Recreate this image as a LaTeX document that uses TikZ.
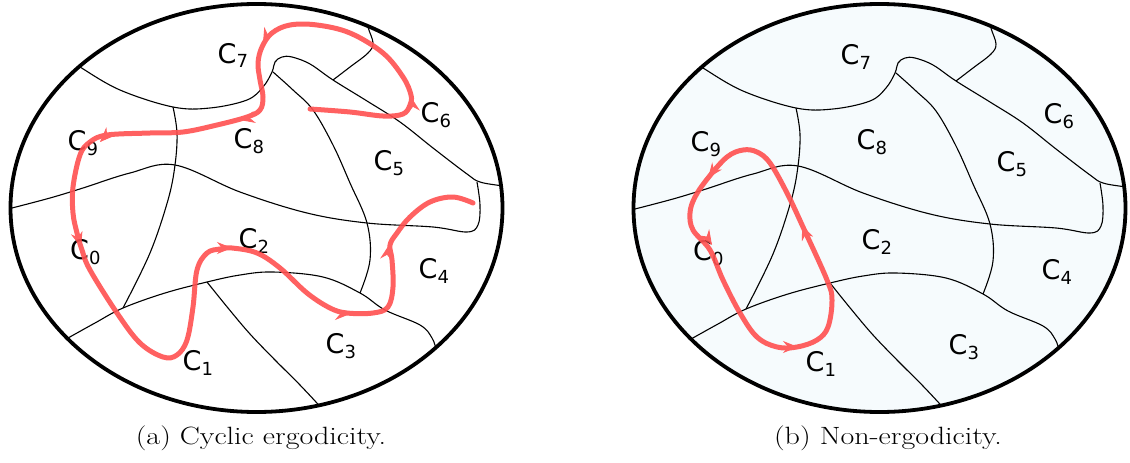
\documentclass[tikz,border=0pt]{standalone}
\usepackage{fontspec}
\newfontfamily\labelfont{DejaVu Sans}
\usetikzlibrary{arrows.meta}
\definecolor{loopred}{RGB}{255,80,80}
\definecolor{panelfill}{RGB}{246,251,253}
\newcommand{\cellname}[1]{C\raisebox{-5pt}{\fontsize{18}{18}\selectfont #1}}
\newcommand{\captext}[1]{\scalebox{1.2}[1]{#1}}
\tikzset{
  region/.style={line width=1.1pt, black, line join=round},
  rim/.style={line width=3.8pt, black},
  redloop/.style={line width=5pt, loopred, line cap=round, line join=round},
  tipmark/.style={loopred, line width=1pt, -{Stealth[length=15pt,width=12pt,inset=5pt]}},
  cell/.style={font=\labelfont\fontsize{27}{27}\selectfont, inner sep=0pt, anchor=base west},
  captiontext/.style={font=\fontsize{25}{29}\selectfont, inner sep=0pt}
}
\newcommand{\regionlines}{%
  \draw[region] plot[smooth, tension=0.6] coordinates {(70,60) (80,67) (120,90) (173,107) (210,108) (247,100) (263,87) (272,72) (275,62) (282,57) (292,57) (310,64) (333,80) (367,101) (400,122) (433,148) (467,174) (480,182) (503,186) (515,188)};
  \draw[region] plot[smooth, tension=0.6] coordinates {(367,15) (368,27) (373,43) (368,53) (350,67) (333,80)};
  \draw[region] plot[smooth, tension=0.6] coordinates {(173,107) (177,133) (175,165) (168,200) (150,253) (123,308)};
  \draw[region] plot[smooth, tension=0.6] coordinates {(0,211) (12,208) (50,198) (83,188) (130,173) (175,165) (240,192) (307,213) (367,223) (433,227) (467,232) (478,225) (480,205) (477,182)};
  \draw[region] plot[smooth, tension=0.6] coordinates {(273,72) (293,90) (313,110) (333,145) (350,183) (367,223) (370,260) (360,293)};
  \draw[region] plot[smooth, tension=0.6] coordinates {(55,345) (68,338) (95,323) (123,308) (165,293) (207,282) (240,275) (273,272) (323,277) (360,293) (385,310) (420,325) (432,338) (437,352) (442,365)};
  \draw[region] plot[smooth, tension=0.6] coordinates {(207,282) (228,308) (250,334) (275,360) (300,385) (325,412) (335,425)};
  \node[cell] (c7) at (217.5,63) {\cellname{7}};
  \node[cell] (c6) at (420.5,122) {\cellname{6}};
  \node[cell] (c8) at (233.5,148) {\cellname{8}};
  \node[cell] (c9) at (67.5,150) {\cellname{9}};
  \node[cell] (c5) at (373.5,170) {\cellname{5}};
  \node[cell] (c0) at (70,259) {\cellname{0}};
  \node[cell] (c2) at (238.5,248) {\cellname{2}};
  \node[cell] (c4) at (418.5,278) {\cellname{4}};
  \node[cell] (c3) at (325.5,353) {\cellname{3}};
  \node[cell] (c1) at (182.5,370) {\cellname{1}};
}
\begin{document}
\begin{tikzpicture}[x=1pt,y=-1pt]
\useasboundingbox (0,0) rectangle (1130,463);
% panel (a)
\begin{scope}
  \clip (256.5,208) ellipse [x radius=246, y radius=204];
  \regionlines
\end{scope}
\begin{scope}[transparency group, opacity=0.9]
  \draw[redloop] plot[smooth, tension=0.6] coordinates {(310,109) (350,112) (383,116) (403,114) (410,105) (411,95) (403,77) (383,53) (350,33) (317,25) (290,25) (272,33) (262,47) (258,63) (260,80) (263,97) (260,110) (247,117) (217,125) (183,132) (150,133) (107,135) (90,142) (80,155) (73,187) (73,213) (77,233) (82,250) (90,270) (117,313) (140,343) (163,357) (177,355) (187,340) (193,307) (197,270) (207,253) (220,249) (232,248) (257,253) (280,268) (307,293) (330,308) (347,313) (373,313) (388,307) (393,287) (392,260) (390,245) (397,233) (410,217) (430,202) (453,197) (473,203)};
  \draw[tipmark] (411.2,98) -- (411,97);
  \draw[tipmark] (263.5,42) -- (263,43);
  \draw[tipmark] (241,119.8) -- (240,120);
  \draw[tipmark] (100.7,141.3) -- (100,142);
  \draw[tipmark] (80.7,246) -- (81,247);
  \draw[tipmark] (231,248) -- (232,248);
  \draw[tipmark] (349,314) -- (350,314);
  \draw[tipmark] (388.8,246) -- (389,245);
\end{scope}
\draw[rim] (256.5,208) ellipse [x radius=246, y radius=204];
\node[captiontext] (capa) at (261,438) {\captext{(a) Cyclic ergodicity.}};
% panel (b)
\fill[panelfill] (879.5,208) ellipse [x radius=246, y radius=204];
\begin{scope}
  \clip (879.5,208) ellipse [x radius=246, y radius=204];
  \begin{scope}[shift={(623,1)}]
    \regionlines
  \end{scope}
\end{scope}
\begin{scope}[transparency group, opacity=0.9]
  \draw[redloop] plot[smooth cycle, tension=0.6] coordinates {(743,150) (757,152) (770,163) (787,193) (803,227) (827,280) (832,300) (828,327) (817,340) (797,347) (777,347) (757,337) (740,313) (723,280) (710,250) (693,230) (690,213) (695,197) (708,178) (727,157)};
  \draw[tipmark] (708.6,177.2) -- (708,178);
  \draw[tipmark] (711.5,244.2) -- (712,245);
  \draw[tipmark] (797,347) -- (798,347);
  \draw[tipmark] (802.4,226) -- (802,225);
\end{scope}
\draw[rim] (879.5,208) ellipse [x radius=246, y radius=204];
\node[captiontext] (capb) at (888,438) {\captext{(b) Non-ergodicity.}};
\end{tikzpicture}
\end{document}
